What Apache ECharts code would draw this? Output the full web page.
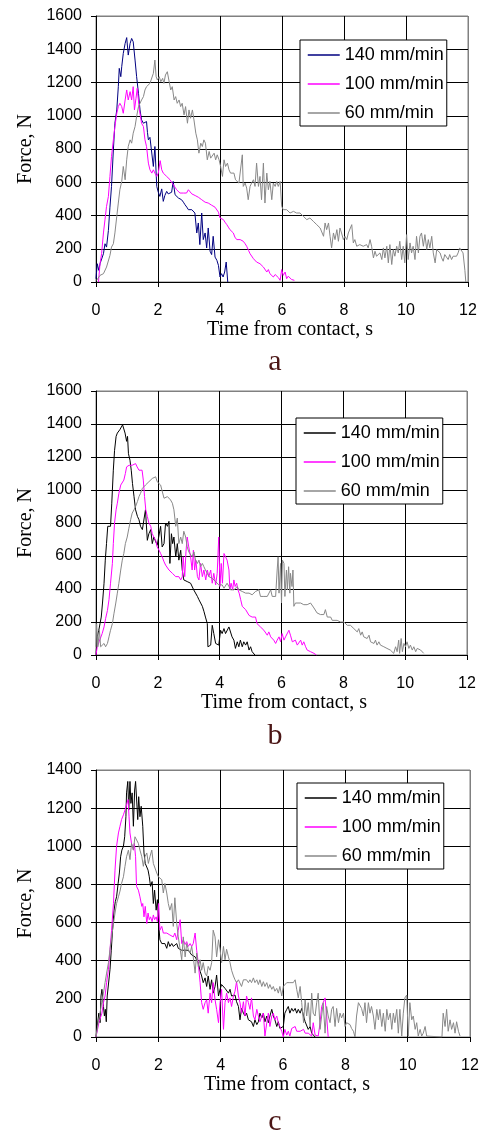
<!DOCTYPE html>
<html>
<head>
<meta charset="utf-8">
<script src="https://cdn.jsdelivr.net/npm/echarts@6/dist/echarts.min.js"></script>
<style>
  html, body { margin: 0; padding: 0; background: #fff; }
  #chart { width: 483px; height: 1131px; }
</style>
</head>
<body>
<div id="chart"></div>
<script>
// Force vs. time from contact for three crosshead speeds, three specimens (a, b, c).
// Each series is a list of [time (s), force (N)] samples.

const seriesNames = ['140 mm/min', '100 mm/min', '60 mm/min'];
const panelLetters = ['a', 'b', 'c'];
const forceMax = [1600, 1600, 1400];
const timeMax = 12;

// ---- specimen a ----
const a140 = [[0,20],[0.04,110],[0.09,70],[0.13,110],[0.18,100],[0.24,170],[0.29,230],[0.34,210],[0.4,310],[0.45,450],[0.5,575],[0.56,795],[0.61,955],[0.67,1035],[0.72,1175],[0.75,1285],[0.8,1235],[0.83,1295],[0.88,1375],[0.94,1435],[0.99,1470],[1.04,1365],[1.1,1435],[1.15,1465],[1.2,1445],[1.26,1335],[1.31,1235],[1.37,1135],[1.42,1035],[1.47,975],[1.53,955],[1.58,945],[1.63,965],[1.66,900],[1.69,855],[1.74,870],[1.8,875],[1.85,695],[1.9,815],[1.96,575],[2.01,540],[2.06,515],[2.12,560],[2.17,485],[2.22,520],[2.28,545],[2.33,530],[2.39,535],[2.44,540],[2.49,605],[2.55,525],[2.6,515],[2.66,505],[2.71,500],[2.76,495],[2.82,480],[2.87,465],[2.93,450],[2.98,435],[3.04,440],[3.09,435],[3.14,425],[3.19,415],[3.25,295],[3.3,355],[3.35,225],[3.41,415],[3.46,255],[3.52,295],[3.57,205],[3.62,325],[3.68,185],[3.73,165],[3.78,275],[3.84,150],[3.9,130],[3.95,100],[4.0,30],[4.05,50],[4.1,30],[4.15,60],[4.2,120],[4.25,0]];
const a100 = [[0.08,0],[0.13,110],[0.18,170],[0.24,295],[0.29,375],[0.34,455],[0.4,515],[0.45,635],[0.5,755],[0.56,855],[0.61,935],[0.67,1015],[0.72,1055],[0.77,1075],[0.83,1055],[0.88,1015],[0.94,1095],[0.99,1155],[1.04,1095],[1.1,1145],[1.15,1095],[1.2,1175],[1.24,1035],[1.29,1105],[1.33,1165],[1.4,1035],[1.47,955],[1.53,935],[1.58,855],[1.63,815],[1.69,715],[1.74,675],[1.8,655],[1.85,675],[1.9,655],[1.96,635],[2.01,655],[2.07,730],[2.12,675],[2.17,655],[2.22,650],[2.28,635],[2.33,625],[2.39,615],[2.44,600],[2.49,595],[2.55,570],[2.6,555],[2.66,545],[2.71,535],[2.76,545],[2.82,535],[2.87,530],[2.92,535],[2.98,555],[3.03,545],[3.09,530],[3.14,525],[3.2,520],[3.25,515],[3.3,510],[3.35,505],[3.41,495],[3.46,485],[3.52,480],[3.57,475],[3.62,475],[3.68,470],[3.73,462],[3.78,455],[3.84,450],[3.89,445],[3.95,420],[4.0,385],[4.05,390],[4.11,375],[4.16,360],[4.22,345],[4.27,330],[4.32,315],[4.38,305],[4.43,295],[4.48,270],[4.54,255],[4.59,265],[4.65,255],[4.7,260],[4.75,245],[4.81,230],[4.86,215],[4.92,190],[4.97,170],[5.03,160],[5.08,140],[5.13,135],[5.18,120],[5.24,130],[5.29,110],[5.35,115],[5.4,90],[5.45,100],[5.51,60],[5.56,75],[5.61,50],[5.67,55],[5.72,30],[5.78,45],[5.83,40],[5.89,25],[5.94,10],[5.99,75],[6.04,40],[6.1,60],[6.15,20],[6.2,35],[6.26,40],[6.31,15],[6.37,10],[6.4,10]];
const a60 = [[0.02,10],[0.13,40],[0.24,50],[0.34,90],[0.45,160],[0.5,210],[0.56,230],[0.61,295],[0.67,395],[0.72,475],[0.77,555],[0.83,605],[0.88,695],[0.94,615],[0.99,735],[1.04,815],[1.1,855],[1.15,835],[1.2,895],[1.26,935],[1.31,995],[1.37,1055],[1.42,1075],[1.47,1095],[1.53,1115],[1.58,1155],[1.63,1175],[1.69,1185],[1.74,1195],[1.8,1205],[1.85,1255],[1.9,1335],[1.94,1235],[1.98,1215],[2.04,1235],[2.09,1205],[2.15,1225],[2.19,1195],[2.24,1245],[2.3,1265],[2.35,1215],[2.41,1155],[2.46,1175],[2.52,1095],[2.57,1115],[2.62,1075],[2.68,1095],[2.73,1055],[2.78,1075],[2.84,1005],[2.89,1055],[2.95,955],[3.0,1035],[3.05,985],[3.11,1035],[3.16,975],[3.22,895],[3.27,855],[3.32,775],[3.38,835],[3.43,815],[3.48,855],[3.53,835],[3.59,735],[3.65,785],[3.7,745],[3.75,755],[3.81,775],[3.86,735],[3.91,765],[3.97,735],[4.02,695],[4.08,635],[4.13,735],[4.18,695],[4.24,715],[4.29,675],[4.34,655],[4.4,645],[4.45,655],[4.5,615],[4.56,605],[4.61,595],[4.67,585],[4.72,765],[4.75,575],[4.81,595],[4.86,565],[4.91,495],[4.97,575],[5.02,595],[5.08,615],[5.13,575],[5.18,715],[5.24,575],[5.29,635],[5.34,495],[5.4,715],[5.45,475],[5.51,655],[5.56,555],[5.61,605],[5.67,495],[5.72,595],[5.78,575],[5.83,605],[5.88,575],[5.94,605],[5.99,455],[6.04,435],[6.1,425],[6.15,435],[6.26,415],[6.37,425],[6.47,415],[6.58,415],[6.69,395],[6.8,375],[6.9,385],[7.01,365],[7.12,345],[7.23,325],[7.34,275],[7.39,355],[7.44,315],[7.5,355],[7.55,275],[7.6,205],[7.66,295],[7.71,255],[7.77,315],[7.82,245],[7.87,325],[7.92,295],[7.98,255],[8.03,275],[8.09,255],[8.14,295],[8.19,305],[8.25,345],[8.3,235],[8.35,255],[8.41,215],[8.46,225],[8.51,225],[8.62,215],[8.73,225],[8.78,205],[8.84,255],[8.89,215],[8.95,145],[9.0,185],[9.05,155],[9.11,165],[9.16,175],[9.22,135],[9.27,205],[9.32,145],[9.38,215],[9.43,115],[9.48,225],[9.54,105],[9.59,195],[9.64,155],[9.7,215],[9.75,175],[9.8,245],[9.86,135],[9.91,215],[9.96,115],[10.02,285],[10.07,135],[10.13,235],[10.18,175],[10.23,215],[10.29,135],[10.34,275],[10.4,175],[10.45,275],[10.5,295],[10.56,215],[10.61,285],[10.67,195],[10.72,255],[10.77,205],[10.83,275],[10.88,175],[10.94,115],[10.99,195],[11.1,175],[11.15,145],[11.2,125],[11.25,165],[11.31,155],[11.36,135],[11.41,165],[11.47,135],[11.52,155],[11.57,145],[11.63,155],[11.68,175],[11.73,205],[11.79,205],[11.84,175],[11.9,70],[11.93,0]];

// ---- specimen b ----
const b140 = [[0,0],[0.04,110],[0.09,150],[0.13,190],[0.17,230],[0.21,315],[0.26,435],[0.3,575],[0.34,675],[0.38,780],[0.43,790],[0.47,780],[0.51,920],[0.56,1120],[0.6,1240],[0.65,1325],[0.69,1345],[0.73,1355],[0.77,1365],[0.82,1375],[0.86,1395],[0.9,1405],[0.94,1345],[0.99,1295],[1.02,1325],[1.05,1220],[1.1,1180],[1.14,1120],[1.18,1040],[1.23,960],[1.28,880],[1.34,840],[1.39,820],[1.44,780],[1.5,760],[1.55,760],[1.6,880],[1.66,695],[1.71,735],[1.77,760],[1.82,675],[1.87,715],[1.93,715],[1.98,665],[2.04,675],[2.09,780],[2.14,655],[2.2,675],[2.25,800],[2.31,780],[2.36,810],[2.39,555],[2.44,735],[2.48,675],[2.52,715],[2.58,595],[2.63,675],[2.68,575],[2.74,635],[2.79,515],[2.84,455],[2.95,445],[3.06,435],[3.16,395],[3.28,355],[3.33,335],[3.38,345],[3.44,295],[3.49,265],[3.54,230],[3.6,190],[3.62,50],[3.71,60],[3.76,180],[3.81,130],[3.87,70],[3.92,70],[3.97,60],[4.03,150],[4.08,130],[4.14,160],[4.19,130],[4.24,140],[4.3,170],[4.35,160],[4.4,110],[4.46,90],[4.51,40],[4.57,80],[4.62,50],[4.67,90],[4.73,50],[4.78,80],[4.84,60],[4.89,80],[4.95,30],[5.0,50],[5.05,20],[5.1,10],[5.14,0]];
const b100 = [[0,0],[0.04,50],[0.1,80],[0.15,90],[0.2,130],[0.26,170],[0.31,220],[0.37,270],[0.42,335],[0.47,435],[0.53,555],[0.56,675],[0.6,800],[0.65,880],[0.69,920],[0.74,980],[0.8,1030],[0.85,1040],[0.9,1060],[0.95,1100],[0.99,1140],[1.03,1140],[1.07,1150],[1.12,1160],[1.17,1150],[1.23,1140],[1.28,1160],[1.33,1140],[1.39,1120],[1.44,1110],[1.49,1120],[1.53,1060],[1.57,960],[1.61,880],[1.66,840],[1.71,800],[1.77,780],[1.82,735],[1.87,715],[1.93,695],[1.98,655],[2.04,635],[2.09,615],[2.14,595],[2.2,565],[2.25,545],[2.31,535],[2.36,515],[2.41,505],[2.47,495],[2.52,485],[2.58,475],[2.63,465],[2.68,475],[2.74,455],[2.79,475],[2.82,595],[2.87,475],[2.91,625],[2.95,715],[3.0,655],[3.06,595],[3.11,515],[3.15,635],[3.19,515],[3.23,575],[3.28,475],[3.33,455],[3.38,555],[3.44,475],[3.49,515],[3.55,455],[3.6,515],[3.65,475],[3.71,515],[3.76,435],[3.81,495],[3.87,425],[3.92,495],[3.97,715],[4.01,415],[4.05,555],[4.09,435],[4.14,615],[4.19,595],[4.24,575],[4.3,515],[4.33,395],[4.37,435],[4.42,395],[4.46,455],[4.5,415],[4.55,435],[4.59,395],[4.63,375],[4.68,335],[4.73,295],[4.78,285],[4.84,275],[4.89,265],[4.95,240],[5.0,230],[5.05,230],[5.1,220],[5.16,230],[5.21,190],[5.27,180],[5.32,170],[5.38,180],[5.43,150],[5.48,160],[5.54,120],[5.59,140],[5.65,110],[5.7,110],[5.75,90],[5.81,70],[5.86,90],[5.92,110],[5.97,80],[6.02,130],[6.08,90],[6.13,110],[6.19,100],[6.24,150],[6.29,120],[6.35,80],[6.4,70],[6.45,90],[6.51,60],[6.56,70],[6.62,90],[6.67,60],[6.72,80],[6.78,50],[6.83,30],[6.89,40],[6.94,20],[6.99,20],[7.05,10],[7.13,0]];
const b60 = [[0,50],[0.02,190],[0.06,50],[0.11,150],[0.15,50],[0.2,40],[0.26,70],[0.31,50],[0.37,70],[0.42,110],[0.47,150],[0.53,190],[0.58,250],[0.64,315],[0.69,375],[0.74,435],[0.8,515],[0.85,575],[0.9,615],[0.95,675],[1.01,715],[1.06,765],[1.12,820],[1.17,860],[1.23,880],[1.28,900],[1.34,930],[1.39,960],[1.44,980],[1.5,1010],[1.55,1020],[1.6,1030],[1.66,1040],[1.71,1050],[1.77,1060],[1.82,1070],[1.87,1060],[1.93,1080],[1.98,1050],[2.04,1060],[2.09,1030],[2.14,1040],[2.2,950],[2.25,960],[2.31,960],[2.36,950],[2.41,940],[2.47,920],[2.52,880],[2.58,780],[2.63,830],[2.68,675],[2.74,715],[2.79,675],[2.84,750],[2.9,715],[2.95,655],[3.0,625],[3.06,635],[3.11,595],[3.17,625],[3.22,575],[3.28,555],[3.33,575],[3.38,535],[3.44,555],[3.49,535],[3.54,515],[3.6,495],[3.65,475],[3.71,485],[3.76,465],[3.81,455],[3.87,445],[3.92,435],[3.97,425],[4.03,415],[4.08,425],[4.14,405],[4.19,415],[4.24,435],[4.3,415],[4.35,395],[4.4,405],[4.46,395],[4.51,405],[4.57,415],[4.62,395],[4.67,405],[4.73,385],[4.78,395],[4.84,375],[4.89,385],[4.95,375],[5.0,385],[5.05,365],[5.1,375],[5.16,385],[5.21,375],[5.27,395],[5.32,355],[5.38,365],[5.43,355],[5.48,345],[5.54,355],[5.59,345],[5.65,395],[5.7,355],[5.75,345],[5.81,355],[5.86,515],[5.89,595],[5.92,375],[5.97,555],[6.0,315],[6.03,575],[6.08,555],[6.11,355],[6.16,515],[6.19,395],[6.23,535],[6.27,375],[6.29,495],[6.34,415],[6.37,515],[6.4,295],[6.45,315],[6.51,305],[6.62,315],[6.72,305],[6.83,305],[6.89,315],[6.94,315],[6.99,305],[7.05,285],[7.1,275],[7.15,255],[7.21,265],[7.26,245],[7.32,255],[7.37,245],[7.42,275],[7.48,230],[7.53,220],[7.59,230],[7.64,210],[7.69,220],[7.8,210],[7.91,200],[8.02,200],[8.13,180],[8.23,180],[8.34,160],[8.4,170],[8.45,140],[8.5,160],[8.56,120],[8.61,140],[8.66,110],[8.72,120],[8.77,100],[8.83,120],[8.88,80],[8.93,90],[8.99,70],[9.04,90],[9.09,60],[9.15,80],[9.2,60],[9.25,70],[9.31,50],[9.36,60],[9.41,40],[9.47,50],[9.52,30],[9.58,40],[9.63,10],[9.69,50],[9.74,20],[9.79,90],[9.82,10],[9.87,100],[9.91,20],[9.96,70],[10.01,50],[10.06,80],[10.12,40],[10.17,60],[10.23,30],[10.28,50],[10.34,20],[10.39,40],[10.44,30],[10.5,30],[10.55,20],[10.6,10]];

// ---- specimen c ----
const c140 = [[0,0],[0.04,55],[0.09,125],[0.13,75],[0.16,215],[0.19,250],[0.24,160],[0.27,110],[0.3,145],[0.33,80],[0.36,215],[0.41,220],[0.45,355],[0.49,455],[0.53,560],[0.58,665],[0.62,710],[0.66,735],[0.71,805],[0.75,860],[0.79,945],[0.83,980],[0.88,1000],[0.92,1050],[0.96,1155],[0.98,1280],[1.02,1340],[1.05,1190],[1.09,1340],[1.12,1225],[1.16,1280],[1.2,1105],[1.24,1295],[1.27,1340],[1.3,1350],[1.34,1140],[1.37,1260],[1.41,1155],[1.45,1210],[1.5,1105],[1.54,965],[1.58,910],[1.63,905],[1.67,875],[1.71,840],[1.75,790],[1.8,815],[1.84,700],[1.88,770],[1.93,665],[1.97,720],[2.01,595],[2.05,510],[2.11,490],[2.16,500],[2.21,490],[2.27,465],[2.32,500],[2.37,475],[2.43,490],[2.48,475],[2.53,465],[2.59,490],[2.64,465],[2.7,475],[2.75,455],[2.8,465],[2.86,455],[2.91,450],[2.96,455],[3.02,455],[3.07,430],[3.12,440],[3.18,420],[3.23,405],[3.28,390],[3.34,345],[3.39,320],[3.44,285],[3.5,310],[3.55,265],[3.6,320],[3.66,250],[3.71,300],[3.76,230],[3.82,265],[3.87,325],[3.93,215],[3.98,250],[4.03,275],[4.09,265],[4.14,255],[4.19,250],[4.25,230],[4.3,250],[4.35,215],[4.41,205],[4.46,220],[4.51,185],[4.57,160],[4.62,90],[4.67,150],[4.73,125],[4.78,110],[4.83,125],[4.89,90],[4.94,100],[4.99,80],[5.05,55],[5.1,90],[5.16,65],[5.21,80],[5.26,125],[5.32,100],[5.37,125],[5.42,80],[5.48,110],[5.53,75],[5.58,110],[5.64,145],[5.69,110],[5.74,90],[5.8,55],[5.85,80],[5.9,45],[5.96,40],[6.01,55],[6.06,125],[6.12,145],[6.17,160],[6.22,125],[6.28,150],[6.33,135],[6.39,150],[6.44,125],[6.49,145],[6.55,125],[6.6,150],[6.66,110],[6.71,80],[6.76,75],[6.81,40],[6.87,55],[6.92,20],[6.97,30],[7.03,0]];
const c100 = [[0,0],[0.05,40],[0.1,80],[0.15,90],[0.19,125],[0.24,180],[0.29,215],[0.34,285],[0.4,355],[0.45,460],[0.5,560],[0.56,700],[0.61,875],[0.66,1000],[0.72,1070],[0.77,1105],[0.82,1140],[0.88,1165],[0.93,1190],[0.98,1200],[1.03,1245],[1.06,1155],[1.09,1070],[1.14,1015],[1.2,980],[1.23,1015],[1.27,945],[1.3,790],[1.36,770],[1.41,735],[1.47,685],[1.5,700],[1.54,630],[1.58,685],[1.63,595],[1.67,650],[1.71,615],[1.75,630],[1.8,605],[1.84,640],[1.88,615],[1.93,630],[1.97,605],[2.01,700],[2.05,560],[2.11,580],[2.16,545],[2.21,555],[2.27,545],[2.32,555],[2.37,535],[2.43,545],[2.48,525],[2.53,545],[2.59,510],[2.64,560],[2.7,615],[2.75,490],[2.8,510],[2.86,485],[2.91,500],[2.96,475],[3.02,490],[3.07,475],[3.12,490],[3.18,545],[3.23,455],[3.28,390],[3.34,285],[3.39,180],[3.44,145],[3.5,180],[3.55,195],[3.6,125],[3.66,230],[3.71,180],[3.76,285],[3.82,195],[3.87,145],[3.93,75],[3.98,180],[4.03,250],[4.09,40],[4.14,180],[4.19,230],[4.25,180],[4.3,205],[4.35,160],[4.41,215],[4.46,240],[4.51,290],[4.57,215],[4.62,180],[4.67,125],[4.73,185],[4.78,110],[4.83,215],[4.89,180],[4.94,145],[4.99,205],[5.05,110],[5.1,90],[5.16,145],[5.21,110],[5.26,80],[5.32,110],[5.37,125],[5.42,5],[5.48,75],[5.53,125],[5.58,55],[5.64,110],[5.69,125],[5.74,90],[5.8,110],[5.85,75],[5.9,55],[5.96,30],[6.01,0],[6.06,40],[6.12,10],[6.17,30],[6.22,5],[6.28,45],[6.33,55],[6.39,55],[6.44,30],[6.49,20],[6.55,30],[6.6,20],[6.66,40],[6.71,20],[6.76,25],[6.81,20],[6.87,30],[6.92,5],[6.97,75],[7.03,10],[7.08,20],[7.13,5],[7.19,75],[7.24,160],[7.29,180],[7.35,205],[7.4,110],[7.45,0]];
const c60 = [[0,0],[0.07,75],[0.13,125],[0.18,180],[0.24,230],[0.29,285],[0.34,335],[0.4,390],[0.45,460],[0.5,525],[0.56,595],[0.61,650],[0.66,700],[0.72,735],[0.77,765],[0.82,805],[0.88,840],[0.93,895],[0.98,945],[1.04,980],[1.09,930],[1.14,1015],[1.2,980],[1.25,1050],[1.3,1060],[1.36,1015],[1.41,980],[1.47,945],[1.52,895],[1.57,945],[1.63,965],[1.68,910],[1.73,945],[1.79,980],[1.84,910],[1.89,910],[1.95,860],[2.0,840],[2.05,850],[2.11,825],[2.16,755],[2.21,805],[2.27,755],[2.32,700],[2.37,665],[2.43,700],[2.48,580],[2.53,730],[2.59,595],[2.64,525],[2.7,460],[2.75,405],[2.8,525],[2.86,420],[2.91,490],[2.96,460],[3.02,440],[3.07,475],[3.12,420],[3.18,335],[3.23,440],[3.28,370],[3.34,405],[3.39,350],[3.44,390],[3.5,335],[3.55,320],[3.6,370],[3.66,350],[3.71,390],[3.76,560],[3.82,525],[3.87,420],[3.93,510],[3.98,460],[4.03,390],[4.09,475],[4.14,405],[4.19,460],[4.25,420],[4.3,390],[4.35,350],[4.41,320],[4.46,300],[4.51,285],[4.57,300],[4.62,290],[4.67,265],[4.73,300],[4.78,290],[4.83,300],[4.89,285],[4.94,300],[4.99,285],[5.05,310],[5.1,285],[5.16,300],[5.21,275],[5.26,300],[5.32,265],[5.37,290],[5.42,265],[5.48,285],[5.53,255],[5.58,275],[5.64,250],[5.69,265],[5.74,240],[5.8,255],[5.85,230],[5.9,265],[5.96,215],[6.01,265],[6.06,275],[6.12,285],[6.17,275],[6.22,285],[6.28,275],[6.33,285],[6.39,300],[6.44,250],[6.49,205],[6.55,265],[6.6,180],[6.66,75],[6.71,195],[6.76,110],[6.81,180],[6.87,55],[6.92,230],[6.97,125],[7.03,110],[7.08,180],[7.13,230],[7.19,40],[7.24,110],[7.29,180],[7.35,20],[7.4,160],[7.45,110],[7.51,75],[7.56,145],[7.61,160],[7.67,55],[7.72,150],[7.78,75],[7.83,125],[7.88,100],[7.94,125],[7.99,55],[8.04,75],[8.1,80],[8.15,65],[8.2,45],[8.26,30],[8.31,0],[8.36,110],[8.42,180],[8.47,185],[8.52,150],[8.58,110],[8.63,180],[8.68,75],[8.74,180],[8.79,125],[8.84,160],[8.9,110],[8.95,40],[9.01,145],[9.06,90],[9.11,145],[9.17,55],[9.22,125],[9.28,30],[9.33,145],[9.38,90],[9.44,125],[9.49,40],[9.54,125],[9.59,75],[9.65,145],[9.7,20],[9.75,145],[9.81,5],[9.86,125],[9.91,205],[9.97,220],[10.02,5],[10.07,180],[10.13,90],[10.18,110],[10.24,40],[10.29,75],[10.34,5],[10.4,40],[10.45,5],[10.5,20],[10.56,55],[10.61,5],[10.66,0],[11.1,0],[11.14,125],[11.2,55],[11.25,145],[11.3,30],[11.36,90],[11.41,40],[11.47,75],[11.52,20],[11.57,80],[11.63,30],[11.68,5]];

const panelData = [[a140, a100, a60], [b140, b100, b60], [c140, c100, c60]];
const panelColors = [
  ['#000080', '#ff00ff', '#888888'],
  ['#000000', '#ff00ff', '#888888'],
  ['#000000', '#ff00ff', '#888888']
];

// plot rectangles, legend boxes, title offsets and caption anchors for the three stacked panels
const gridBoxes = [
  { left: 96, top: 16, width: 372, height: 266 },
  { left: 96, top: 391, width: 371, height: 264 },
  { left: 96, top: 770, width: 374, height: 267 }
];
const xTitleShift = [16, 5, 8];
const legendBoxes = [
  { left: 300, top: 40 },
  { left: 296, top: 418 },
  { left: 297, top: 783 }
];
const captionAnchors = [
  { x: 275, y: 362 },
  { x: 275, y: 736 },
  { x: 275, y: 1122 }
];

const SANS = '"Liberation Sans", Arial, sans-serif';
const SERIF = '"Liberation Serif", "Times New Roman", serif';
const BORDER = '#808080';

// interior grid lines are black, the outermost (top / right) one is the grey frame
function frameColors(count) {
  const c = [];
  for (let i = 0; i < count; i++) c.push(i === count - 1 ? BORDER : '#000');
  return c;
}

const plainNumber = v => String(v);

const option = {
  animation: false,
  backgroundColor: '#fff',
  grid: gridBoxes.map(g => Object.assign({ show: true, borderColor: BORDER, borderWidth: 1, backgroundColor: '#fff' }, g)),
  xAxis: gridBoxes.map((g, i) => ({
    type: 'value', gridIndex: i, min: 0, max: timeMax, interval: 2,
    name: 'Time from contact, s', nameLocation: 'middle', nameGap: 38,
    nameTextStyle: { fontFamily: SERIF, fontSize: 20, color: '#000', padding: [0, 0, 0, xTitleShift[i]] },
    axisLine: { show: true, onZero: false, lineStyle: { color: '#000', width: 1 } },
    axisTick: { show: true, inside: false, length: 5, lineStyle: { color: '#000' } },
    axisLabel: { margin: 21, fontFamily: SANS, fontSize: 16, color: '#000', formatter: plainNumber },
    splitLine: { show: true, lineStyle: { color: frameColors(timeMax / 2 + 1), width: 1 } }
  })),
  yAxis: gridBoxes.map((g, i) => ({
    type: 'value', gridIndex: i, min: 0, max: forceMax[i], interval: 200,
    name: 'Force, N', nameLocation: 'middle', nameGap: 57,
    nameTextStyle: { fontFamily: SERIF, fontSize: 20, color: '#000' },
    axisLine: { show: true, onZero: false, lineStyle: { color: '#000', width: 1 } },
    axisTick: { show: true, inside: false, length: 5, lineStyle: { color: '#000' } },
    axisLabel: { margin: 14, fontFamily: SANS, fontSize: 16, color: '#000', formatter: plainNumber },
    splitLine: { show: true, lineStyle: { color: frameColors(forceMax[i] / 200 + 1), width: 1 } }
  })),
  legend: legendBoxes.map((b, i) => ({
    orient: 'vertical', left: b.left, top: b.top,
    itemWidth: 32, itemHeight: 14, itemGap: 11,
    padding: [6, 3, 4, 7],
    borderColor: '#000', borderWidth: 1, backgroundColor: '#fff',
    selectedMode: false,
    textStyle: { fontFamily: SANS, fontSize: 18, color: '#000' },
    data: seriesNames.map((n, k) => ({
      name: n,
      itemStyle: { color: 'rgba(0,0,0,0)', opacity: 0, borderWidth: 0 },
      lineStyle: { color: panelColors[i][k], width: 1.5 }
    }))
  })),
  series: [],
  graphic: captionAnchors.map((c, i) => ({
    type: 'text', x: c.x, y: c.y,
    style: { text: panelLetters[i], font: '30px ' + SERIF, fill: '#4b1616', textAlign: 'center', textVerticalAlign: 'middle' }
  }))
};

panelData.forEach((set, i) => {
  set.forEach((data, k) => {
    option.series.push({
      type: 'line', name: seriesNames[k], xAxisIndex: i, yAxisIndex: i,
      data: data, symbol: 'none', showSymbol: false,
      lineStyle: { color: panelColors[i][k], width: 1 },
      itemStyle: { color: panelColors[i][k] },
      emphasis: { disabled: true }
    });
  });
});

const chart = echarts.init(document.getElementById('chart'), null, { renderer: 'canvas' });
chart.setOption(option);
</script>
</body>
</html>
